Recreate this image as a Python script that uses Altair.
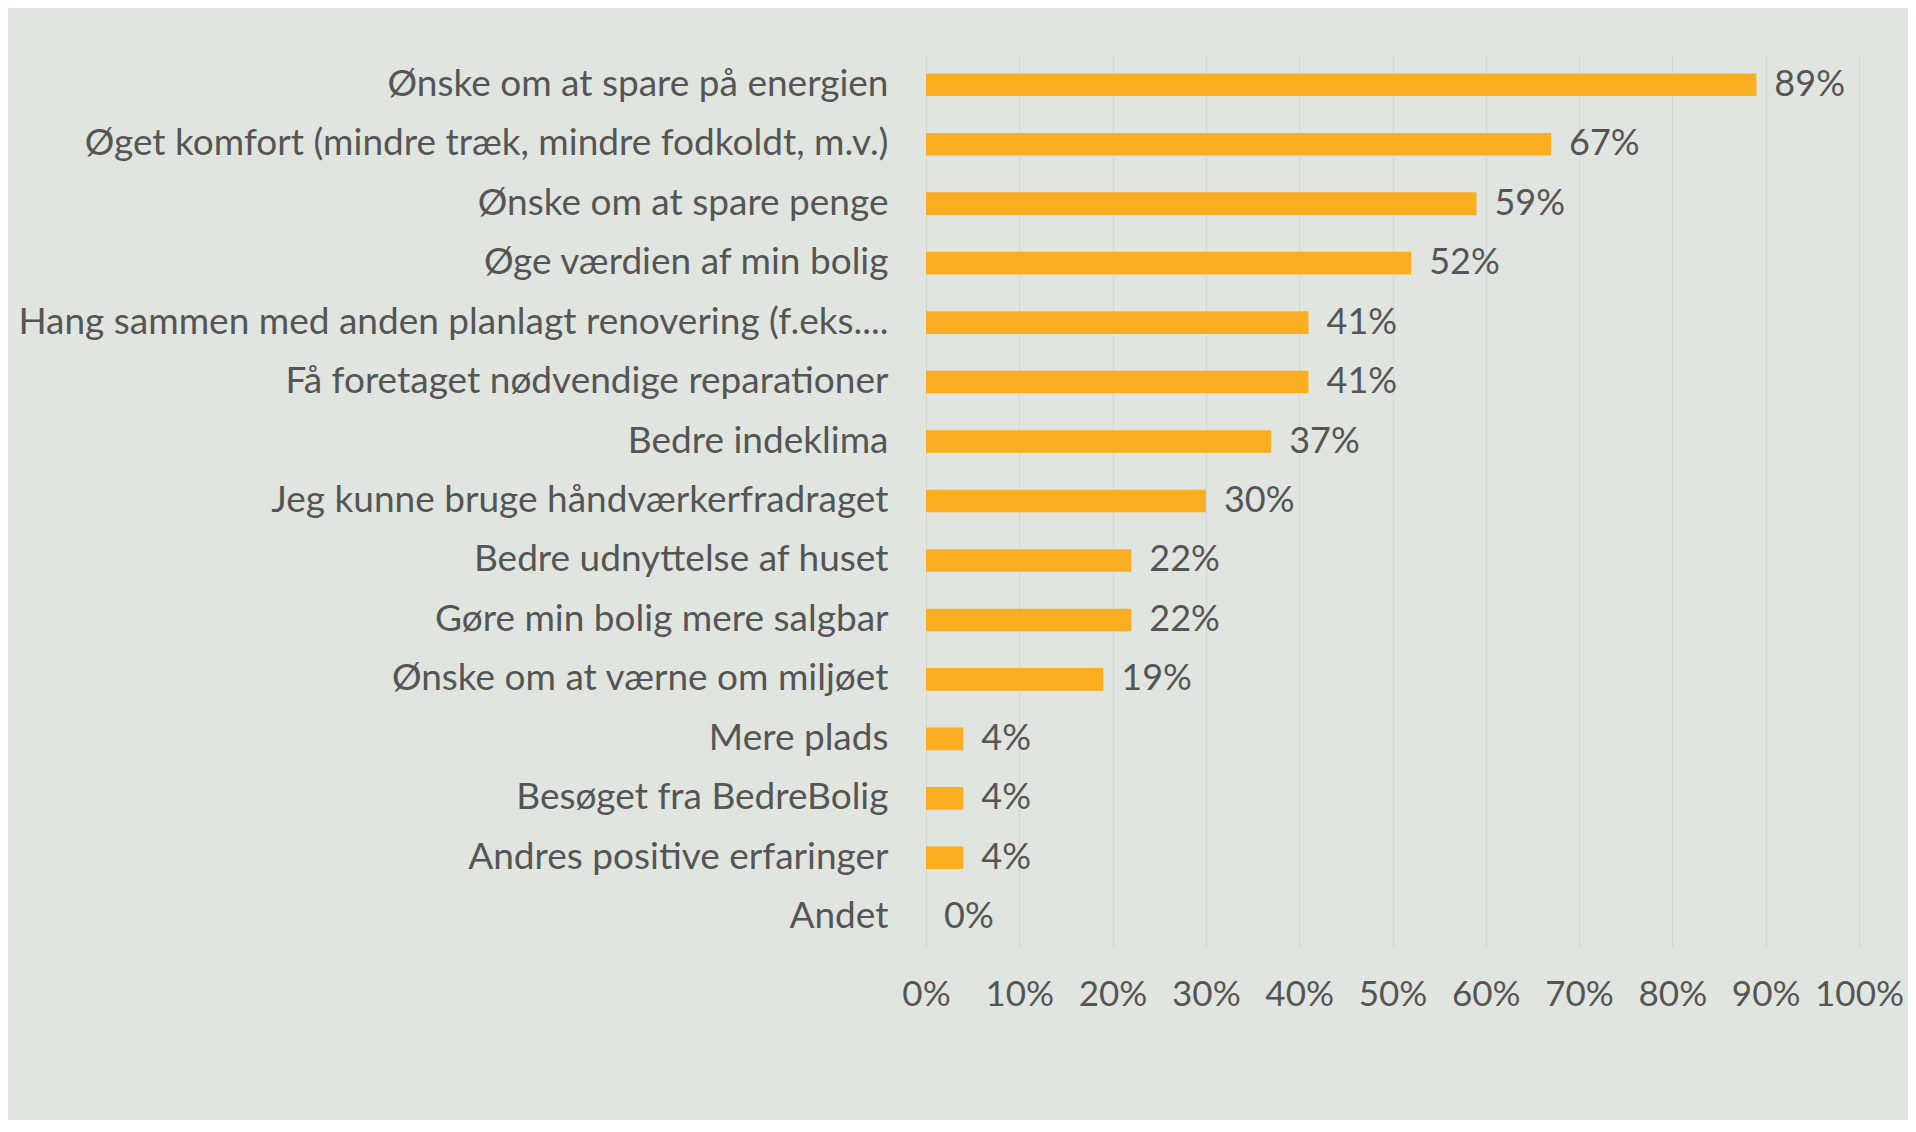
import altair as alt
import pandas as pd

categories = [
    "Ønske om at spare på energien",
    "Øget komfort (mindre træk, mindre fodkoldt, m.v.)",
    "Ønske om at spare penge",
    "Øge værdien af min bolig",
    "Hang sammen med anden planlagt renovering (f.eks....",
    "Få foretaget nødvendige reparationer",
    "Bedre indeklima",
    "Jeg kunne bruge håndværkerfradraget",
    "Bedre udnyttelse af huset",
    "Gøre min bolig mere salgbar",
    "Ønske om at værne om miljøet",
    "Mere plads",
    "Besøget fra BedreBolig",
    "Andres positive erfaringer",
    "Andet",
]
values = [0.89, 0.67, 0.59, 0.52, 0.41, 0.41, 0.37, 0.30, 0.22, 0.22, 0.19, 0.04, 0.04, 0.04, 0.0]
x_ticks = [0, 0.1, 0.2, 0.3, 0.4, 0.5, 0.6, 0.7, 0.8, 0.9, 1.0]

df = pd.DataFrame({"kategori": categories, "andel": values})

FONT = "Lato"
TEXT = "#555555"

y_enc = alt.Y(
    "kategori:N",
    sort=categories,
    title=None,
    scale=alt.Scale(paddingInner=0.62, paddingOuter=0.31),
    axis=alt.Axis(
        domain=False, ticks=False, labelPadding=38, labelLimit=1200,
        labelFontSize=37, labelColor=TEXT, labelFont=FONT, labelAlign="right",
    ),
)
x_enc = alt.X(
    "andel:Q",
    title=None,
    scale=alt.Scale(domain=[0, 1], nice=False),
    axis=alt.Axis(
        values=x_ticks, format=".0%", domain=False, ticks=False,
        grid=True, gridColor="#D3D5D2", gridWidth=1,
        labelOverlap=False, labelFlush=False,
        labelPadding=30, labelFontSize=35, labelColor=TEXT, labelFont=FONT,
    ),
)

bars = alt.Chart(df).mark_bar(color="#FBAD21").encode(x=x_enc, y=y_enc)
labels = alt.Chart(df).mark_text(
    align="left", baseline="middle", dx=18, fontSize=36, color=TEXT, font=FONT
).encode(
    x="andel:Q",
    y=alt.Y("kategori:N", sort=categories),
    text=alt.Text("andel:Q", format=".0%"),
)

chart = (
    alt.layer(bars, labels)
    .properties(
        width=933,
        height=892,
        padding={"left": 918, "top": 47, "right": 49, "bottom": 173},
        autosize=alt.AutoSizeParams(type="none"),
        background="#E1E5DF",
    )
    .configure_view(stroke=None)
)

chart.save("out.html", embed_options={"renderer": "svg", "actions": False})
